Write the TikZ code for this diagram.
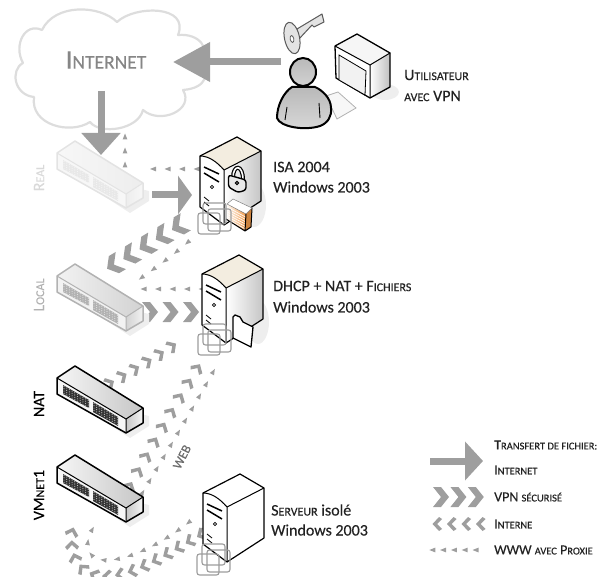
\documentclass[tikz,border=0pt]{standalone}
\usepackage{fontspec}
\setmainfont{Carlito}[FakeBold=0.3]
\usetikzlibrary{arrows.meta,decorations.markings}
\definecolor{flow}{HTML}{9E9E9E}
\definecolor{cloudline}{HTML}{DDDDDD}
\definecolor{shadowc}{HTML}{EEEEEE}
\definecolor{cream}{HTML}{F3EDE0}
\definecolor{orangeb}{HTML}{F09A4A}
\definecolor{vmline}{HTML}{9C9C9C}
\definecolor{blacktext}{HTML}{222222}
\def\smcsize{11}
\newcommand{\smc}[1]{{\fontsize{\smcsize}{12}\selectfont\MakeUppercase{#1}}}
\tikzset{
  bigflow/.style={draw=flow,line width=7pt,-{Triangle[length=#1,width=38pt]}},
  chevbig/.style={decorate,decoration={markings,
     mark=between positions 0 and 1 step #1 with {\fill[flow] (0,0)--(-8,-10)--(-16,-10)--(-8,0)--(-16,10)--(-8,10)--cycle;}}},
  chevmid/.style={decorate,decoration={markings,
     mark=between positions 0 and 1 step #1 with {\fill[flow] (0,0)--(-8,-10)--(-16,-10)--(-8,0)--(-16,10)--(-8,10)--cycle;}}},
  chevsmall/.style={decorate,decoration={markings,
     mark=between positions 0 and 1 step #1 with {\fill[flow] (0,0)--(-6.5,-7)--(-9.5,-5)--(-4.6,0)--(-9.5,5)--(-6.5,7)--cycle;}}},
  dashflow/.style={decorate,decoration={markings,
     mark=between positions 0 and 1 step #1 with {\fill[flow] (2.5,0)--(-3.5,-2.4)--(-3.5,2.4)--cycle;}}},
  lab/.style={anchor=west,inner sep=0pt,font=\def\smcsize{12}\fontsize{16}{18}\selectfont,text=blacktext},
  leglab/.style={anchor=west,inner sep=0pt,font=\def\smcsize{10.5}\fontsize{14}{15}\selectfont,text=blacktext},
  vlab/.style={rotate=90,inner sep=0pt,font=\def\smcsize{12}\fontsize{16}{18}\selectfont},
  vm/.style={draw=vmline,line width=1.1pt,rounded corners=2.5pt}
}
% switch: x y line dark dot faceA faceB
\newcommand{\switchpic}[7]{%
\begin{scope}[shift={(#1,#2)}]
 \fill[shadowc] (-10,30)--(55,72)--(74,60)--(74,50)--cycle;
 \shade[left color=#6,right color=#7] (0,0)--(-18,12)--(51,53)--(68,42)--cycle;
 \fill[#6] (-18,12)--(51,53)--(51,67)--(-18,28)--cycle;
 \shade[left color=#7,right color=#6] (51,53)--(68,42)--(68,57)--(51,67)--cycle;
 \draw[#3,line width=1.5pt,line join=round] (0,0)--(-18,12)--(-18,28)--(51,67)--(68,57)--(68,42)--cycle;
 \draw[#3,line width=1pt] (-18,12)--(51,53)--(51,67) (51,53)--(68,42);
 \fill[#4] (-12,19)--(14,34)--(14,42)--(-12,28)--cycle;
 \fill[#4] (18,36)--(43,51)--(43,60)--(18,46)--cycle;
 \foreach \i in {0,...,9}{\foreach \j in {0,1,2,3}{
   \fill[#5] ({-11+\i*2.7},{20.5+\i*1.55+\j*2.3}) circle (.6);
   \fill[#5] ({19+\i*2.6},{37.5+\i*1.55+\j*2.3}) circle (.6);}}
\end{scope}}
% server: x y topcolor rightcolor
\newcommand{\serverpic}[4]{%
\begin{scope}[shift={(#1,#2)}]
 \fill[#3] (0,0)--(-37,19)..controls (-28,19) and (-20,25)..(-13,33)--(24,14)--cycle;
 \fill[white] (-37,19)..controls (-28,19) and (-20,25)..(-13,33)--(-13,88)--(-37,70)--cycle;
 \shade[left color=white,right color=#4] (-13,33)--(24,14)--(24,64)--(-13,88)--cycle;
 \draw[black,line width=1.2pt,line join=round] (0,0)--(-37,19)--(-37,70)--(-13,88)--(24,64)--(24,14)--cycle;
 \draw[black,line width=1pt] (-37,19)..controls (-28,19) and (-20,25)..(-13,33)--(24,14) (-13,33)--(-13,88);
 \draw[black,line width=1.5pt] (-33,30)--(-18,37) (-33,36)--(-18,45);
 \draw[black,line width=.8pt] (-25,50) circle (1.6) (-33,60)--(-28,64) (-33,65)--(-28,69);
\end{scope}}
\newcommand{\vmpic}[2]{%
\begin{scope}[shift={(#1,#2)}]
 \draw[vm] (0,0) rectangle (23,21);
 \draw[vm] (5,6) rectangle (28,28);
 \draw[vm] (-5,10) rectangle (17,31);
\end{scope}}
\begin{document}
\begin{tikzpicture}[x=1pt,y=-1pt]
\useasboundingbox (0,0) rectangle (607,577);
% cloud
\draw[cloudline,line width=2.2pt,fill=white,line join=round]
 (23,63)..controls (13,45) and (25,22)..(42,30)
 ..controls (55,3) and (100,5)..(117,22)
 ..controls (135,5) and (190,5)..(178,35)
 ..controls (200,33) and (212,50)..(199,62)
 ..controls (210,72) and (208,88)..(183,90)
 ..controls (195,110) and (160,125)..(143,110)
 ..controls (138,130) and (100,135)..(90,122)
 ..controls (70,135) and (30,125)..(34,97)
 ..controls (14,95) and (10,70)..(23,63)--cycle;
\node[inner sep=0pt,text=flow!85!black,font=\def\smcsize{19.5}\fontsize{27}{29}\selectfont] (internet) at (106,60) {I\smc{nternet}};
% connector ends
\coordinate (userOut) at (281,62);
\coordinate (inetR) at (173,62);
\coordinate (inetOut) at (101,91);
\coordinate (realIn) at (101,155);
\coordinate (realUp) at (125,164);
\coordinate (inetIn) at (125,132);
\coordinate (isaW) at (196,169);
\coordinate (realE) at (150,169);
\coordinate (realS) at (152,195);
\coordinate (isaIn) at (192,195);
\coordinate (isaCa) at (172,230);
\coordinate (localCa) at (105,270);
\coordinate (isaDa) at (187,243);
\coordinate (localDa) at (130,286);
\coordinate (dhcpW) at (201,289);
\coordinate (localE) at (130,289);
\coordinate (localS) at (158,312);
\coordinate (dhcpIn) at (201,312);
\coordinate (natE) at (114,381);
\coordinate (dhcpN) at (187,336);
\coordinate (vmE) at (132,482);
\coordinate (dhcpS) at (202,361);
\coordinate (vmF) at (143,492);
\coordinate (dhcpT) at (217,365);
\coordinate (isoDa) at (188,523);
\coordinate (bendA) at (103,560);
\coordinate (vmDa) at (99,520);
\coordinate (isoCa) at (197,537);
\coordinate (bendB) at (108,576);
\coordinate (bendC) at (72,543);
\coordinate (vmCa) at (78,517);
% flows under the devices
\path[dashflow=14pt] (realUp)--(inetIn);
\path[dashflow=14.5pt] (isaW)--(realE);
\path[chevmid=18.9pt] (isaCa)--(localCa);
\path[dashflow=14.5pt] (isaDa)..controls (165,262) and (145,275)..(localDa);
\path[dashflow=14.5pt] (dhcpW)--(localE);
\path[chevbig=20.5pt] (localS)--(dhcpIn);
\path[chevsmall=14.5pt] (natE)..controls (135,369) and (165,352)..(dhcpN);
\path[chevsmall=17pt] (vmE)..controls (155,440) and (180,395)..(dhcpS);
\path[dashflow=14pt] (vmF)..controls (165,455) and (195,405)..(dhcpT);
\path[dashflow=13.5pt] (isoDa)..controls (160,545) and (125,562)..(bendA)..controls (85,558) and (82,540)..(vmDa);
\path[chevsmall=13pt] (isoCa)..controls (165,555) and (135,575)..(bendB)..controls (85,578) and (72,560)..(bendC)..controls (71,532) and (74,525)..(vmCa);
% shadows
\fill[shadowc] (254,205) ellipse (12 and 22);
\fill[shadowc] (258,322) ellipse (11 and 22);
\fill[shadowc] (385,92) ellipse (14 and 8);
% switches
\switchpic{75}{141}{gray!22}{gray!18}{gray!8}{gray!6}{gray!14}
\switchpic{75}{264}{gray!60}{gray!60}{gray!25}{gray!10}{gray!35}
\switchpic{75}{366}{black}{black!80}{gray!55}{gray!7}{gray!45}
\switchpic{75}{455}{black}{black!80}{gray!55}{gray!7}{gray!45}
\node[vlab,text=gray!30] (lreal) at (39,178) {R\smc{eal}};
\node[vlab,text=gray!60] (llocal) at (39,295) {L\smc{ocal}};
\node[vlab,text=black] (lnat) at (39,404) {NAT};
\node[vlab,text=black] (lvm) at (39,495) {VM\smc{net}1};
% servers
\serverpic{237}{137}{cream}{gray!45}
\serverpic{239}{255}{cream}{gray!45}
\serverpic{240}{474}{white}{white}
% padlock
\draw[black,line width=4pt] (233,178)..controls (233,164) and (243,164)..(243,180);
\draw[white,line width=1.6pt] (233,178)..controls (233,164) and (243,164)..(243,180);
\draw[black,line width=1.4pt,fill=gray!18,rounded corners=2.5pt] (228.5,175)--(246,180)--(246,190)--(238,192.5)--(228.5,187)--cycle;
\draw[black,line width=1pt] (237,183) circle (1.6);
% firewall
\fill[white] (227,204)--(233,199)--(252,208)--(246,214)--cycle;
\shade[left color=white,right color=orangeb] (227,204)--(246,214)--(245,231)--(226,219)--cycle;
\fill[orangeb!85!black] (246,214)--(252,208)--(251,227)--(245,231)--cycle;
\foreach \k in {0,...,5}{\draw[white,line width=.6pt] (227,{207+\k*2.4})--(245.5,{217+\k*2.4});}
\draw[black,line width=1pt,line join=round] (252,208)--(251,227)--(245,231)--(226,219) (246,214)--(245,231);
\draw[gray,line width=.5pt] (227,204)--(233,199)--(252,208)--(246,214)--cycle;
% folder
\draw[black,line width=1.3pt,fill=white,line join=round] (233,317)--(233,338)--(251,347)--(253,327)--(243,322)--(240,317)--(235,315)--cycle;
% vmware squares
\vmpic{203}{203}
\vmpic{203}{324}
\vmpic{202}{544}
% key
\draw[gray!70!black,line width=1pt,fill=gray!22,line join=round] (297,29)--(322,14)--(324,22)--(314,27)--(312,25)--(299,39)--cycle;
\draw[gray!70!black,line width=1pt,fill=gray!22,rotate around={12:(292,38)}] (292,38) ellipse (7.5 and 16);
\draw[gray!70!black,line width=.8pt,fill=white,rotate around={12:(292,39)}] (292,39) ellipse (1.8 and 3.5);
% monitor
\shade[left color=white,right color=gray!50] (370,65)--(390,53)--(390,87)--(370,98)--cycle;
\fill[white] (335,46)--(370,65)--(370,98)--(336,78)--cycle;
\fill[gray!7] (357,34)--(335,46)--(370,65)--(390,53)--cycle;
\draw[black,line width=1.3pt,line join=round] (357,34)--(335,46)--(336,78)--(370,98)--(390,87)--(390,53)--cycle;
\draw[black,line width=1pt] (335,46)--(370,65)--(390,53) (370,65)--(370,98);
\draw[black,line width=.8pt,fill=gray!10] (339,55)--(366,71)--(365,95)--(339,80)--cycle;
% keyboard
\draw[gray!60,line width=.8pt,fill=gray!6] (326,96)--(338,92)--(356,108)--(337,119)--cycle;
% user
\shade[draw=black,line width=2pt,top color=gray!55,bottom color=gray!30] (292,87)..controls (284,92) and (277,105)..(277,118)
  ..controls (280,127) and (305,131)..(320,126)..controls (328,123) and (332,116)..(331,108)
  ..controls (331,98) and (322,90)..(315,87)--cycle;
\shade[draw=black,line width=2pt,top color=gray!55,bottom color=gray!35] (303,72) ellipse (13 and 14);
\draw[black,line width=.9pt] (287,107)--(285,120) (319,103)--(320,118);
% labels
\node[lab] (lblUser) at (404,75) {U\smc{tilisateur}};
\node[lab] (lblUser2) at (404,96) {\smc{avec} VPN};
\node[lab] (lblIsa) at (273,167) {ISA 2004};
\node[lab] (lblIsa2) at (273,187) {Windows 2003};
\node[lab] (lblDhcp) at (273,286) {DHCP + NAT + F\smc{ichiers}};
\node[lab] (lblDhcp2) at (273,307) {Windows 2003};
\node[lab] (lblIso) at (271,510) {S\smc{erveur} isolé};
\node[lab] (lblIso2) at (271,530) {Windows 2003};
\node[inner sep=0pt,rotate=63,text=gray!85!black,font=\fontsize{13}{15}\selectfont] (lblWeb) at (182,457) {WEB};
% big arrows above the devices
\draw[bigflow=37pt] (userOut)--(inetR);
\draw[bigflow=22pt] (inetOut)--(realIn);
\draw[bigflow=14pt] (realS)--(isaIn);
% legend
\coordinate (legAs) at (430,461);
\coordinate (legAe) at (483,461);
\draw[bigflow=18pt] (legAs)--(legAe);
\coordinate (legBs) at (449,497);
\coordinate (legBe) at (484,497);
\path[chevbig=17.4pt] (legBs)--(legBe);
\coordinate (legCs) at (476,524);
\coordinate (legCe) at (432,524);
\path[chevsmall=14.5pt] (legCs)--(legCe);
\coordinate (legDs) at (475,550);
\coordinate (legDe) at (431,550);
\path[dashflow=10.8pt] (legDs)--(legDe);
\node[leglab] (lg1) at (494,445) {T\smc{ransfert de fichier:}};
\node[leglab] (lg2) at (494,470) {I\smc{nternet}};
\node[leglab] (lg3) at (494,497) {VPN \smc{sécurisé}};
\node[leglab] (lg4) at (494,524) {I\smc{nterne}};
\node[leglab] (lg5) at (494,550) {WWW \smc{avec} P\smc{roxie}};
\end{tikzpicture}
\end{document}
